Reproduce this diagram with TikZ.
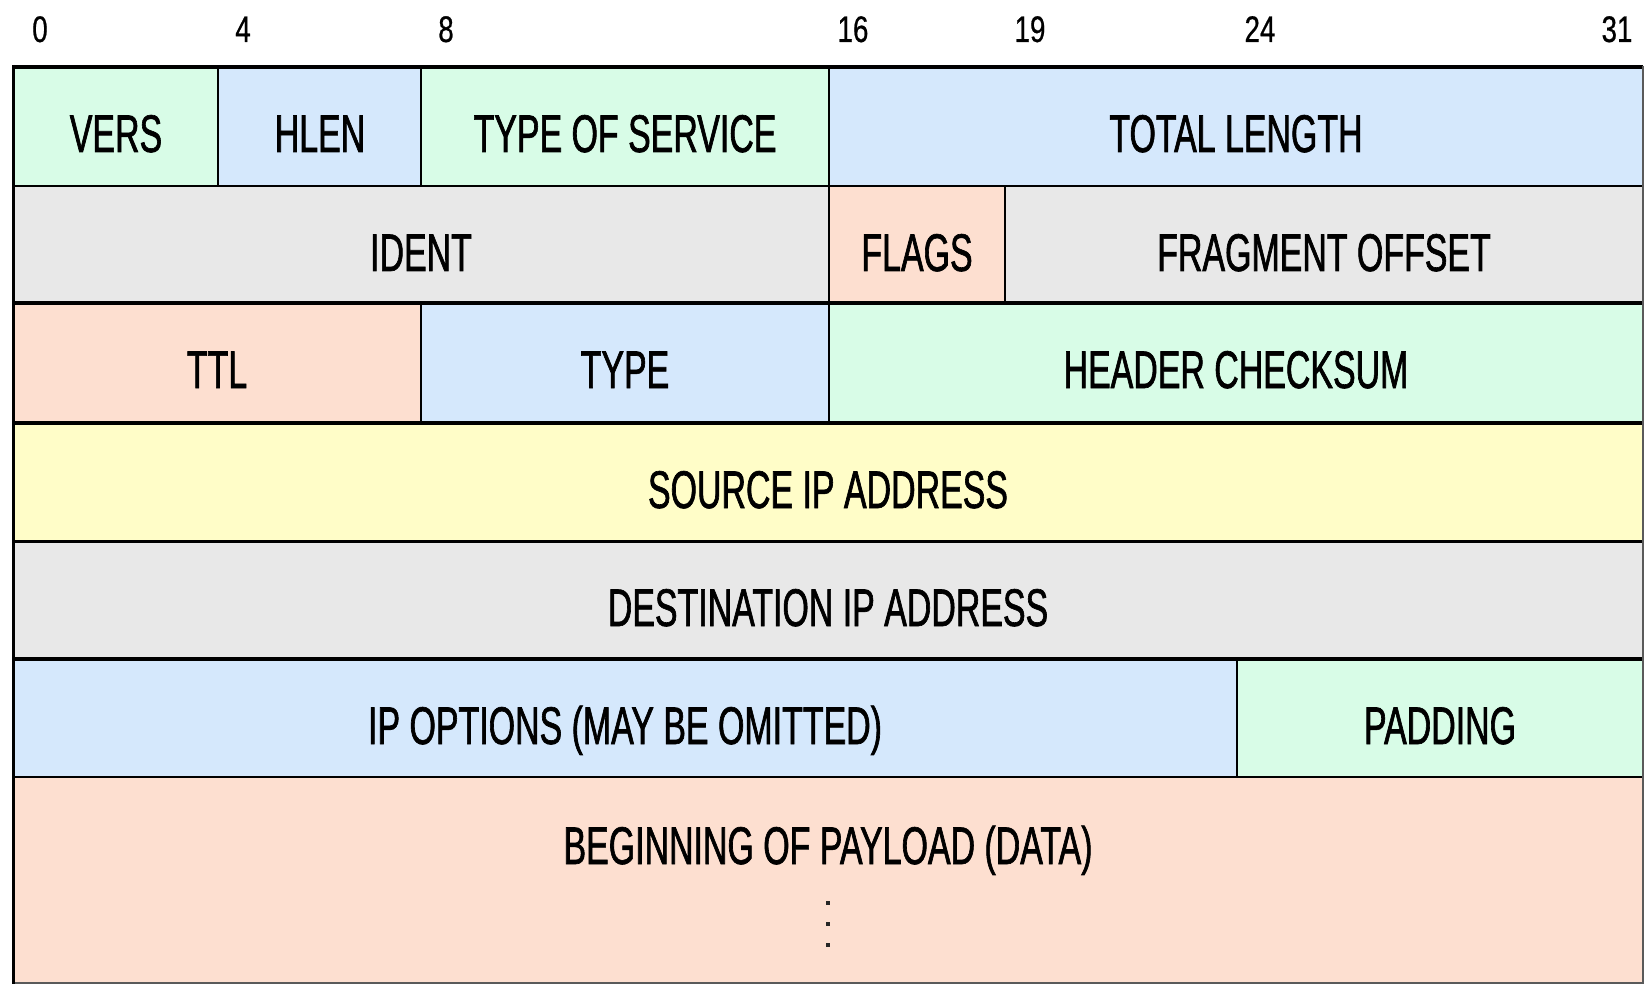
\documentclass[tikz,border=0pt]{standalone}
\usepackage{fontspec}
\setmainfont[FakeStretch=0.64,FakeBold=1.2]{Liberation Sans}
\newfontfamily\bitfont[FakeStretch=0.75,FakeBold=0.6]{Liberation Sans}
\definecolor{fgreen}{RGB}{216,252,231}
\definecolor{fblue}{RGB}{213,232,252}
\definecolor{fgray}{RGB}{232,232,232}
\definecolor{fsalmon}{RGB}{253,223,208}
\definecolor{fyellow}{RGB}{255,253,200}
\definecolor{rim}{RGB}{90,90,90}
\tikzset{
  field/.style={inner sep=0pt, anchor=base, font=\fontsize{53}{60}\selectfont},
  bitnum/.style={inner sep=0pt, anchor=base, font=\bitfont\fontsize{37}{40}\selectfont},
  rowline/.style={line width=3.5pt, black},
  colline/.style={line width=2.6pt, black},
  dot/.style={rectangle, fill=black!85, inner sep=0pt, minimum size=3.8pt}
}
\begin{document}
\begin{tikzpicture}[x=1pt, y=-1pt]
\useasboundingbox (0,0) rectangle (1646,984);
\fill[white] (0,0) rectangle (1646,984);

% bit positions along the top
\node[bitnum] (b0)  at (40,42)   {0};
\node[bitnum] (b4)  at (243,42)  {4};
\node[bitnum] (b8)  at (446,42)  {8};
\node[bitnum] (b16) at (853,42)  {16};
\node[bitnum] (b19) at (1030,42) {19};
\node[bitnum] (b24) at (1260,42) {24};
\node[bitnum] (b31) at (1617,42) {31};

% field backgrounds
\fill[fgreen]  (14,67)   rectangle (218,186);
\fill[fblue]   (218,67)  rectangle (421,186);
\fill[fgreen]  (421,67)  rectangle (829,186);
\fill[fblue]   (829,67)  rectangle (1643,186);
\fill[fgray]   (14,186)  rectangle (829,303);
\fill[fsalmon] (829,186) rectangle (1005,303);
\fill[fgray]   (1005,186) rectangle (1643,303);
\fill[fsalmon] (14,303)  rectangle (421,423);
\fill[fblue]   (421,303) rectangle (829,423);
\fill[fgreen]  (829,303) rectangle (1643,423);
\fill[fyellow] (14,423)  rectangle (1643,541);
\fill[fgray]   (14,541)  rectangle (1643,659);
\fill[fblue]   (14,659)  rectangle (1237,777);
\fill[fgreen]  (1237,659) rectangle (1643,777);
\fill[fsalmon] (14,777)  rectangle (1643,982);

% field names
\node[field] (vers)  at (116,152)  {VERS};
\node[field] (hlen)  at (320,152)  {HLEN};
\node[field] (tos)   at (625,152)  {TYPE OF SERVICE};
\node[field] (tlen)  at (1236,152) {TOTAL LENGTH};
\node[field] (ident) at (421,271)  {IDENT};
\node[field] (flags) at (917,271)  {FLAGS};
\node[field] (frag)  at (1324,271) {FRAGMENT OFFSET};
\node[field] (ttl)   at (217,388)  {TTL};
\node[field] (type)  at (625,388)  {TYPE};
\node[field] (hcs)   at (1236,388) {HEADER CHECKSUM};
\node[field] (src)   at (828,508)  {SOURCE IP ADDRESS};
\node[field] (dst)   at (828,626)  {DESTINATION IP ADDRESS};
\node[field] (opts)  at (625,744)  {IP OPTIONS (MAY BE OMITTED)};
\node[field] (pad)   at (1440,744) {PADDING};
\node[field] (data)  at (828,864)  {BEGINNING OF PAYLOAD (DATA)};
\node[dot] (d1) at (828,903) {};
\node[dot] (d2) at (828,924) {};
\node[dot] (d3) at (828,945) {};

% column separators
\draw[colline] (218,67) -- (218,186);
\draw[colline] (421,67) -- (421,186);
\draw[colline] (829,67) -- (829,303);
\draw[colline] (1005,186) -- (1005,303);
\draw[colline] (421,303) -- (421,423);
\draw[colline] (829,303) -- (829,423);
\draw[colline] (1237,659) -- (1237,777);

% row separators and frame
\draw[line width=4.5pt] (12.5,67) -- (1643,67);
\draw[line width=2.6pt] (14,186) -- (1643,186);
\draw[rowline] (14,303) -- (1643,303);
\draw[rowline] (14,423) -- (1643,423);
\draw[line width=3pt] (14,541) -- (1643,541);
\draw[rowline] (14,659) -- (1643,659);
\draw[line width=2.8pt] (14,777) -- (1643,777);
\draw[line width=2pt, rim] (14,982.5) -- (1643,982.5);
\draw[line width=3.5pt] (13.5,65) -- (13.5,984);
\draw[line width=2pt, rim] (1643,66) -- (1643,984);
\end{tikzpicture}
\end{document}
